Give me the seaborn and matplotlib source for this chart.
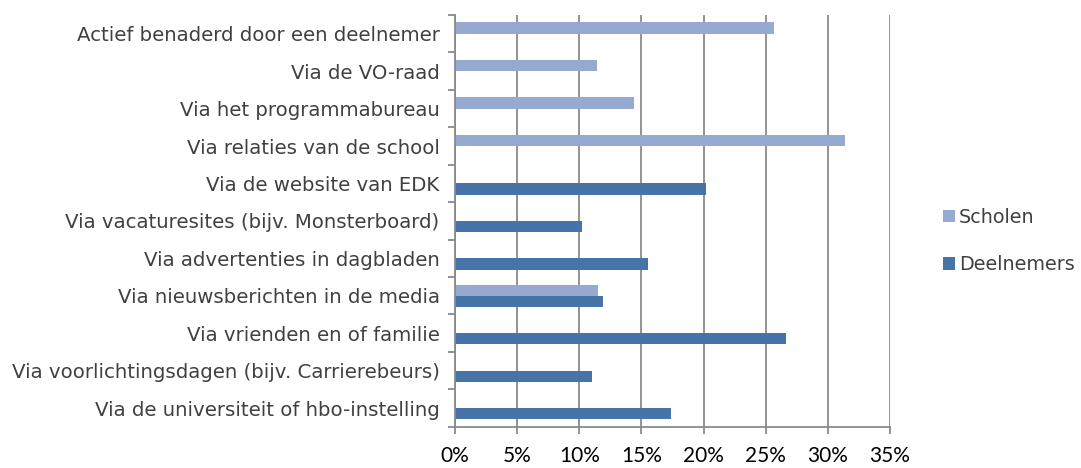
import numpy as np
import pandas as pd
import matplotlib
matplotlib.use('Agg')
import matplotlib.pyplot as plt
import seaborn as sns
from matplotlib.patches import Patch
from matplotlib.ticker import FixedLocator, PercentFormatter

# Categories, top to bottom
categories = [
    'Actief benaderd door een deelnemer',
    'Via de VO-raad',
    'Via het programmabureau',
    'Via relaties van de school',
    'Via de website van EDK',
    'Via vacaturesites (bijv. Monsterboard)',
    'Via advertenties in dagbladen',
    'Via nieuwsberichten in de media',
    'Via vrienden en of familie',
    'Via voorlichtingsdagen (bijv. Carrierebeurs)',
    'Via de universiteit of hbo-instelling',
]

# Percentages (NaN = no bar)
scholen = [25.7, 11.4, 14.4, 31.4, np.nan, np.nan, np.nan, 11.5, np.nan, np.nan, np.nan]
deelnemers = [np.nan, np.nan, np.nan, np.nan, 20.2, 10.2, 15.5, 11.9, 26.6, 11.0, 17.4]

series = ['Scholen', 'Deelnemers']
colors = ['#95A9D1', '#4673A8']

df = pd.DataFrame({
    'categorie': categories * 2,
    'reeks': ['Scholen'] * len(categories) + ['Deelnemers'] * len(categories),
    'waarde': scholen + deelnemers,
})

sns.set_style('white')
plt.rcParams['font.family'] = ['DejaVu Sans']
text_col = '#404040'
grid_col = '#8A8A8A'

fig = plt.figure(figsize=(10.81, 4.68), dpi=100)
ax = fig.add_axes([0.4209, 0.088, 0.4024, 0.880])

sns.barplot(data=df, x='waarde', y='categorie', hue='reeks', hue_order=series,
            order=categories, palette=colors, orient='h', width=0.6,
            ax=ax, legend=False, saturation=1, linewidth=0)

ax.set_xlim(0, 35)
ax.set_ylim(len(categories) - 0.5, -0.5)
ax.set_xticks(np.arange(0, 36, 5))
ax.xaxis.set_major_formatter(PercentFormatter(decimals=0))
ax.set_xlabel('')
ax.set_ylabel('')

ax.grid(axis='x', color=grid_col, linewidth=1.3)
ax.set_axisbelow(True)
for s in ['top', 'right']:
    ax.spines[s].set_visible(False)
for s in ['left', 'bottom']:
    ax.spines[s].set_color(grid_col)
    ax.spines[s].set_linewidth(1.3)

ax.yaxis.set_minor_locator(FixedLocator(np.arange(-0.5, len(categories), 1)))
ax.tick_params(axis='y', which='major', length=0, pad=11, labelsize=14.2, labelcolor=text_col)
ax.tick_params(axis='y', which='minor', length=5, width=1.3, color=grid_col, left=True)
ax.tick_params(axis='x', which='major', length=5, width=1.3, color=grid_col, bottom=True,
               pad=9, labelcolor='black')
for lbl in ax.get_xticklabels():
    lbl.set_fontfamily('Lato')
    lbl.set_fontsize(15)

handles = [Patch(facecolor=c, edgecolor='none') for c in colors]
fig.legend(handles, series, loc='center left', bbox_to_anchor=(0.856, 0.485),
           frameon=False, fontsize=13.8, handlelength=0.65, handleheight=0.65,
           handletextpad=0.2, labelspacing=1.5, labelcolor=text_col)

fig.savefig('out.png', dpi=100)
